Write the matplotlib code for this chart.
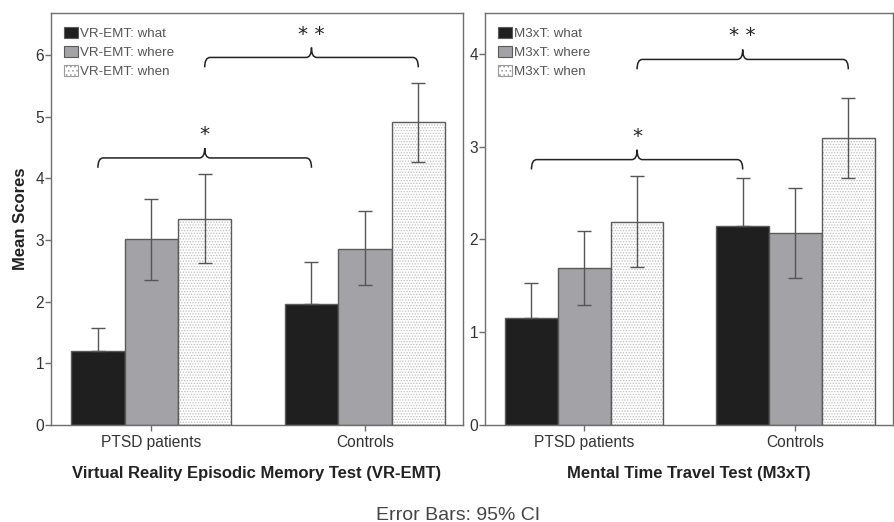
import matplotlib as mpl
mpl.use('agg')
import matplotlib.pyplot as plt
import numpy as np
from matplotlib.path import Path
from matplotlib.patches import PathPatch, Patch

plt.rcParams['font.family'] = ['Liberation Sans', 'DejaVu Sans']
plt.rcParams['hatch.linewidth'] = 0.6

groups = ['PTSD patients', 'Controls']
conds = ['what', 'where', 'when']

# VR-EMT panel: means and 95% CI bounds, rows = conds, cols = groups
vr_mean = [[1.20, 1.96], [3.01, 2.86], [3.34, 4.91]]
vr_hi = [[1.57, 2.65], [3.67, 3.47], [4.07, 5.55]]
vr_lo = [[0.83, 1.27], [2.35, 2.27], [2.62, 4.27]]

# M3xT panel
m3_mean = [[1.15, 2.14], [1.69, 2.07], [2.19, 3.09]]
m3_hi = [[1.53, 2.66], [2.09, 2.55], [2.68, 3.52]]
m3_lo = [[0.77, 1.62], [1.29, 1.58], [1.70, 2.66]]

# brackets: (x0, x1, y of line, label)
vr_brackets = [(-0.25, 0.75, 4.33, '*'), (0.25, 1.25, 5.96, '* *')]
m3_brackets = [(-0.25, 0.75, 2.86, '*'), (0.25, 1.25, 3.94, '* *')]

face = ['#1f1f1f', '#a3a3a7', 'white']
edge = '#5a5a5a'
frame_col = '#6e6e6e'
text_col = '#333333'
w = 0.25


def brace(ax, x0, x1, y, drop, tip, dx, label, star_off):
    xm = (x0 + x1) / 2
    verts = [(x0, y - drop), (x0, y), (x0 + dx, y),
             (xm - dx, y), (xm, y), (xm, y + tip),
             (xm, y), (xm + dx, y),
             (x1 - dx, y), (x1, y), (x1, y - drop)]
    codes = [Path.MOVETO, Path.CURVE3, Path.CURVE3,
             Path.LINETO, Path.CURVE3, Path.CURVE3,
             Path.CURVE3, Path.CURVE3,
             Path.LINETO, Path.CURVE3, Path.CURVE3]
    ax.add_patch(PathPatch(Path(verts, codes), fill=False, lw=1.1, ec='#222222'))
    ax.text(xm, y + tip + star_off, label, ha='center', va='center',
            fontsize=14.5, color='#222222', family='DejaVu Sans')


def panel(ax, mean, hi, lo, ylim, yticks, xlabel, prefix, brackets, unit):
    x = np.arange(len(groups))
    for i, c in enumerate(conds):
        pos = x + (i - 1) * w
        m = np.array(mean[i])
        yerr = [m - np.array(lo[i]), np.array(hi[i]) - m]
        if c == 'what':
            # lower whisker disappears inside the black bar
            yerr[0] = np.zeros_like(m)
        if c == 'when':
            ax.bar(pos, m, w, color='white', edgecolor='#bdbdbd', hatch='......',
                   lw=0, zorder=2)
            ax.bar(pos, m, w, color='none', edgecolor=edge, lw=1, zorder=2.5)
        else:
            ax.bar(pos, m, w, color=face[i], edgecolor=edge, lw=1, zorder=2)
        ax.errorbar(pos, m, yerr=yerr, fmt='none', ecolor='#555555',
                    elinewidth=1, capsize=4.7, capthick=1, zorder=3)
    ax.set_xlim(-0.47, 1.46)
    ax.set_ylim(*ylim)
    ax.set_yticks(yticks)
    ax.set_xticks(x)
    ax.set_xticklabels(groups)
    ax.tick_params(colors=frame_col, labelcolor=text_col, labelsize=11.2,
                   length=4, width=1)
    ax.tick_params(axis='y', pad=1)
    for s in ax.spines.values():
        s.set_color(frame_col)
        s.set_linewidth(1)
    ax.set_xlabel(xlabel, fontsize=12, fontweight='bold', color='#222222',
                  labelpad=11)
    for x0, x1, y, lab in brackets:
        brace(ax, x0, x1, y, 0.16 * unit, 0.16 * unit, 0.025, lab, 0.22 * unit)
    handles = [Patch(facecolor=face[0], edgecolor=edge, lw=0.8),
               Patch(facecolor=face[1], edgecolor=edge, lw=0.8),
               Patch(facecolor='white', edgecolor='#9a9a9a', hatch='....', lw=0.8)]
    ax.legend(handles, [prefix + ': ' + c for c in conds], loc='upper left',
              frameon=False, fontsize=9.6, labelcolor='#555555',
              handlelength=1.05, handleheight=0.85, handletextpad=0.12,
              labelspacing=0.45, borderaxespad=0.3, bbox_to_anchor=(0.01, 0.988))


fig = plt.figure(figsize=(8.94, 5.22), dpi=100)
ax1 = fig.add_axes([0.057, 0.186, 0.461, 0.789])
ax2 = fig.add_axes([0.5425, 0.186, 0.456, 0.789])

panel(ax1, vr_mean, vr_hi, vr_lo, (0, 6.68), range(7),
      'Virtual Reality Episodic Memory Test (VR-EMT)', 'VR-EMT', vr_brackets, 1.0)
panel(ax2, m3_mean, m3_hi, m3_lo, (0, 4.44), range(5),
      'Mental Time Travel Test (M3xT)', 'M3xT', m3_brackets, 0.665)

ax1.set_ylabel('Mean Scores', fontsize=12, fontweight='bold', color='#222222',
               labelpad=5)

fig.text(0.512, 0.0134, 'Error Bars: 95% CI', ha='center', va='center',
         fontsize=14, color='#444444')

plt.savefig('out.png', dpi=100)
